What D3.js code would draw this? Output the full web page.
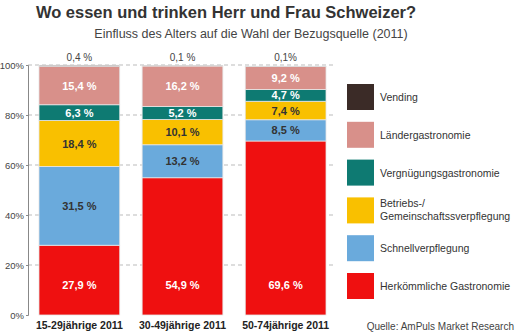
<!DOCTYPE html>
<html>
<head>
<meta charset="utf-8">
<script src="https://cdn.jsdelivr.net/npm/d3@7"></script>
<style>
  body { margin: 0; background: #fff; }
  svg { display: block; font-family: "Liberation Sans", Arial, sans-serif; }
</style>
</head>
<body>
<svg></svg>
<script>
// categories and series (bottom to top of each stack)
var groups = ["15-29jährige 2011", "30-49jährige 2011", "50-74jährige 2011"];
var seriesNames = ["Herkömmliche Gastronomie", "Schnellverpflegung", "Betriebs-/ Gemeinschaftssverpflegung",
    "Vergnügungsgastronomie", "Ländergastronomie", "Vending"];
var herkoemmlich = [27.9, 54.9, 69.6];
var schnell = [31.5, 13.2, 8.5];
var betriebs = [18.4, 10.1, 7.4];
var vergnuegung = [6.3, 5.2, 4.7];
var laender = [15.4, 16.2, 9.2];
var vending = [0.4, 0.1, 0.1];
var labelsTop = ["0,4 %", "0,1 %", "0,1%"];
var yTicks = [0, 20, 40, 60, 80, 100];

var colors = ["#ef1010", "#6aaadc", "#f9c000", "#0e7a72", "#d8908a", "#3b2b27"];
var textColors = ["#fff", "#333", "#333", "#fff", "#fff", null];

var width = 516, height = 335;
var svg = d3.select("svg").attr("width", width).attr("height", height);

var values = [herkoemmlich, schnell, betriebs, vergnuegung, laender, vending];
var rows = groups.map(function(g, i) {
    var r = {group: g};
    seriesNames.forEach(function(s, j) { r[s] = values[j][i]; });
    return r;
});
var stack = d3.stack().keys(seriesNames)(rows);

var x = d3.scaleBand().domain(groups).range([27.75, 337.25]).paddingInner(0.217).paddingOuter(0.109);
var y = d3.scaleLinear().domain([0, 100]).range([315, 65]);

// title
svg.append("text").attr("x", 226).attr("y", 18).attr("text-anchor", "middle")
    .attr("font-size", 16.5).attr("font-weight", "bold").attr("fill", "#333")
    .text("Wo essen und trinken Herr und Frau Schweizer?");
svg.append("text").attr("x", 251).attr("y", 38).attr("text-anchor", "middle")
    .attr("font-size", 12.5).attr("fill", "#444")
    .text("Einfluss des Alters auf die Wahl der Bezugsquelle (2011)");

// gridlines
svg.append("g").selectAll("line").data(yTicks.slice(1)).enter().append("line")
    .attr("x1", 28).attr("x2", 335)
    .attr("y1", d => y(d)).attr("y2", d => y(d))
    .attr("stroke", "#bbb").attr("stroke-dasharray", "4,3");

// y axis
var yAxis = d3.axisLeft(y).tickValues(yTicks).tickFormat(d => d + "%").tickSize(2).tickPadding(2);
var ya = svg.append("g").attr("transform", "translate(28,0)").call(yAxis);
ya.select(".domain").attr("stroke", "#888");
ya.selectAll(".tick line").attr("stroke", "#888");
ya.selectAll(".tick text").attr("font-size", 9.5).attr("fill", "#444").attr("font-family", "Liberation Sans, Arial, sans-serif");

// bars
var layers = svg.append("g").selectAll("g").data(stack).enter().append("g")
    .attr("fill", (d, i) => colors[i]);
layers.selectAll("rect").data(d => d).enter().append("rect")
    .attr("x", d => x(d.data.group))
    .attr("width", x.bandwidth())
    .attr("y", d => y(d[1]))
    .attr("height", d => y(d[0]) - y(d[1]))
    .attr("stroke", "#e6e6e6").attr("stroke-width", 0.8);

// segment labels
stack.forEach(function(layer, i) {
    if (!textColors[i]) return;
    svg.append("g").selectAll("text").data(layer).enter().append("text")
        .attr("x", d => x(d.data.group) + x.bandwidth() / 2)
        .attr("y", function(d) {
            var mid = (y(d[0]) + y(d[1])) / 2;
            if (i === 0) mid = y(d[0]) - 30;
            return mid + 4;
        })
        .attr("text-anchor", "middle")
        .attr("font-size", 11).attr("font-weight", "bold")
        .attr("fill", textColors[i])
        .text(d => (d[1] - d[0]).toFixed(1).replace(".", ",") + " %");
});

// labels above bars
svg.append("g").selectAll("text").data(groups).enter().append("text")
    .attr("x", d => x(d) + x.bandwidth() / 2)
    .attr("y", 61)
    .attr("text-anchor", "middle").attr("font-size", 10).attr("fill", "#444")
    .text((d, i) => labelsTop[i]);

// x labels
svg.append("g").selectAll("text").data(groups).enter().append("text")
    .attr("x", d => x(d) + x.bandwidth() / 2)
    .attr("y", 329)
    .attr("text-anchor", "middle").attr("font-size", 10.5).attr("font-weight", "bold").attr("fill", "#222")
    .text(d => d);

// legend (top to bottom)
var legendOrder = seriesNames.map((s, i) => i).reverse();
var lg = svg.append("g").selectAll("g").data(legendOrder).enter().append("g")
    .attr("transform", (d, k) => "translate(347," + (84 + k * 37.8) + ")");
lg.append("rect").attr("width", 27).attr("height", 26).attr("fill", d => colors[d]);
lg.each(function(d) {
    var parts = seriesNames[d].split(" ");
    var t = d3.select(this).append("text").attr("x", 33).attr("font-size", 10.5).attr("fill", "#333");
    if (d === 2) {
        t.append("tspan").attr("x", 33).attr("y", 10).text(parts[0]);
        t.append("tspan").attr("x", 33).attr("y", 23).text(parts[1]);
    } else {
        t.attr("y", 17).text(seriesNames[d]);
    }
});

svg.append("text").attr("x", 514).attr("y", 330).attr("text-anchor", "end")
    .attr("font-size", 10).attr("fill", "#444")
    .text("Quelle: AmPuls Market Research");
</script>
</body>
</html>
